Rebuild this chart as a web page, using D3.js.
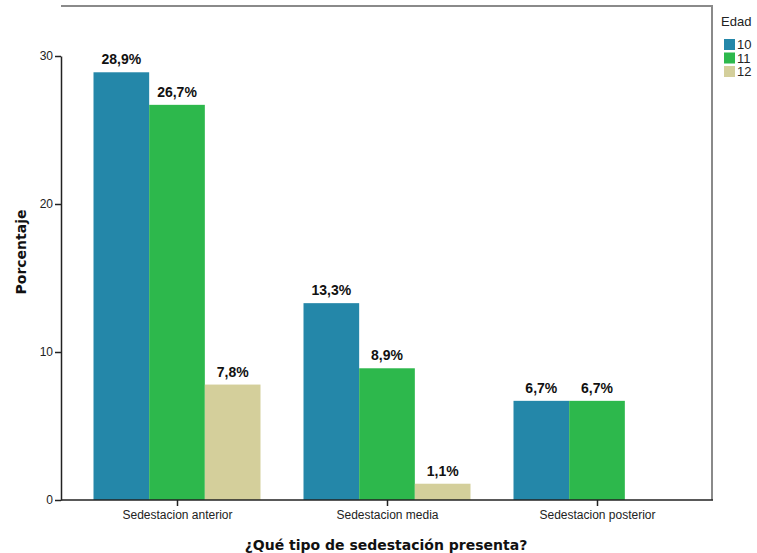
<!DOCTYPE html>
<html><head><meta charset="utf-8">
<script src="https://cdn.jsdelivr.net/npm/d3@7/dist/d3.min.js"></script>
<style>body{margin:0;background:#fff}svg{display:block}</style>
</head><body><svg id="c" width="757" height="553"></svg>
<script>
const categories = ["Sedestacion anterior", "Sedestacion media", "Sedestacion posterior"];
const ages = ["10", "11", "12"];
const values10 = [28.9, 13.3, 6.7];
const values11 = [26.7, 8.9, 6.7];
const values12 = [7.8, 1.1, null];
const colors = ["#2487A9", "#2DB84C", "#D4CF9B"];
const yTicks = [0, 10, 20, 30];
const series = [values10, values11, values12];

const svg = d3.select("#c");
const L = 61, R = 712, T = 6, B = 500;
const font = "Arial, 'Liberation Sans', sans-serif";
const tfont = "'DejaVu Sans', Verdana, sans-serif";

const y = d3.scaleLinear().domain([0, 30]).range([B, B - 30 * 14.8]);
const x0 = d3.scalePoint().domain(categories).range([177, 597]);
const x1 = d3.scaleBand().domain(ages).range([-83.5, 83.5]);

// frame
svg.append("path").attr("d", `M${L},${T}H${R}V${B}`).attr("fill", "none").attr("stroke", "#8a8a8a").attr("stroke-width", 2);

// bars
const data = [];
categories.forEach((c, i) => ages.forEach((a, j) => { if (series[j][i] != null) data.push({c, a, j, v: series[j][i]}); }));
svg.append("g").selectAll("rect").data(data).join("rect")
  .attr("x", d => x0(d.c) + x1(d.a))
  .attr("width", x1.bandwidth())
  .attr("y", d => y(d.v))
  .attr("height", d => y(0) - y(d.v))
  .attr("fill", d => colors[d.j]);

svg.append("g").selectAll("text").data(data).join("text")
  .attr("x", d => x0(d.c) + x1(d.a) + x1.bandwidth() / 2)
  .attr("y", d => y(d.v) - 8)
  .attr("text-anchor", "middle")
  .attr("font-family", font).attr("font-weight", "bold").attr("font-size", 14).attr("fill", "#111")
  .text(d => d.v.toFixed(1).replace(".", ",") + "%");

// y axis
const ya = svg.append("g").attr("transform", `translate(${L},0)`)
  .call(d3.axisLeft(y).tickValues(yTicks).tickSize(6).tickPadding(2).tickSizeOuter(0));
ya.select(".domain").attr("stroke", "#222").attr("stroke-width", 1.5);
ya.selectAll("line").attr("stroke", "#222").attr("stroke-width", 1.5);
ya.selectAll("text").attr("font-family", font).attr("font-size", 12).attr("fill", "#222");

// x axis
const xa = svg.append("g").attr("transform", `translate(0,${B})`)
  .call(d3.axisBottom(x0).tickSize(6).tickPadding(4).tickSizeOuter(0));
xa.select(".domain").attr("d", `M${L},0H${R + 1}`).attr("stroke", "#222").attr("stroke-width", 1.5);
xa.selectAll("line").attr("stroke", "#222").attr("stroke-width", 1.5);
xa.selectAll("text").attr("font-family", font).attr("font-size", 12).attr("fill", "#222");

// axis titles
svg.append("text").attr("x", 386).attr("y", 550).attr("text-anchor", "middle")
  .attr("font-family", tfont).attr("font-weight", "bold").attr("font-size", 14).attr("fill", "#111")
  .text("¿Qué tipo de sedestación presenta?");
svg.append("text").attr("transform", "translate(26,252) rotate(-90)").attr("text-anchor", "middle")
  .attr("font-family", tfont).attr("font-weight", "bold").attr("font-size", 14).attr("fill", "#111")
  .text("Porcentaje");

// legend
const lg = svg.append("g");
lg.append("text").attr("x", 721).attr("y", 26).attr("font-family", font).attr("font-size", 13).attr("fill", "#222").text("Edad");
ages.forEach((a, j) => {
  lg.append("rect").attr("x", 724).attr("y", 39 + j * 13.5).attr("width", 11).attr("height", 11).attr("fill", colors[j]);
  lg.append("text").attr("x", 737).attr("y", 49 + j * 13.5).attr("font-family", font).attr("font-size", 13).attr("fill", "#222").text(a);
});
</script></body></html>
